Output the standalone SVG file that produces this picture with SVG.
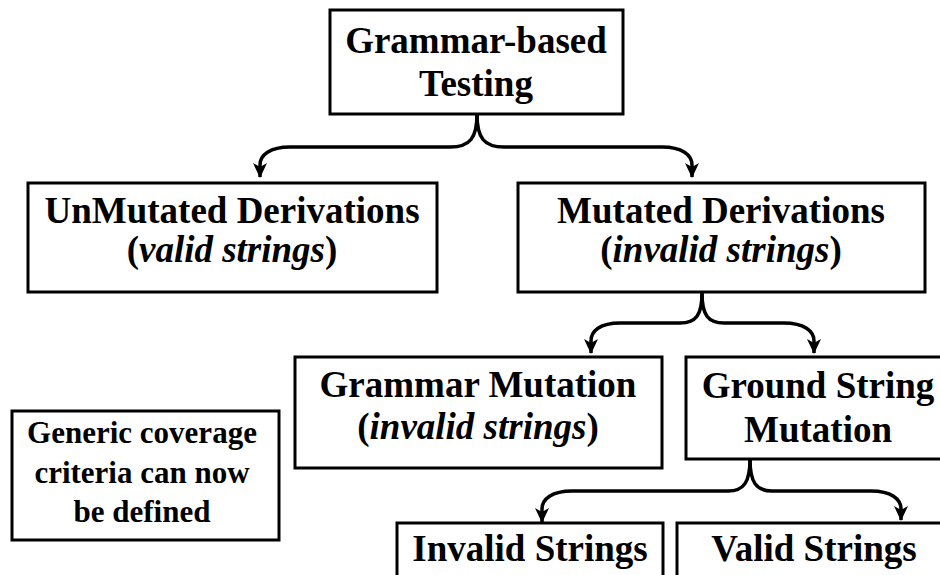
<svg xmlns="http://www.w3.org/2000/svg" width="940" height="575" viewBox="0 0 940 575">
<style>
.box{fill:#fff;stroke:#000;stroke-width:3}
.t{font-family:'Liberation Serif','Tinos','Times New Roman','DejaVu Serif',serif;font-weight:700;font-size:37px;fill:#000;text-anchor:middle}
.s{font-size:31px}
.i{font-style:italic}
.c{fill:none;stroke:#000;stroke-width:3.5;marker-end:url(#ah)}
</style>
<defs>
<marker id="ah" markerUnits="userSpaceOnUse" markerWidth="16" markerHeight="16" viewBox="0 0 16 16" refX="14" refY="8" orient="auto">
<path d="M0,1 L15,8 L0,15 L4,8 Z" fill="#000"/>
</marker>
</defs>
<rect width="940" height="575" fill="#fff"/>
<g id="connectors">
<path class="c" d="M477,114 C477,138 470,147 450,147 L290,147 C270,147 260,155 260,165 L260,177"/>
<path class="c" d="M477,114 C477,138 484,147 504,147 L662,147 C682,147 692,155 692,165 L692,177"/>
<path class="c" d="M702,293 C702,315 696,323 680,323 L620,323 C600,323 591,331 591,341 L591,353"/>
<path class="c" d="M702,293 C702,315 708,323 724,323 L784,323 C804,323 814,331 814,341 L814,353"/>
<path class="c" d="M750,459 C750,482 744,491 728,491 L572,491 C552,491 542,499 542,509 L542,522"/>
<path class="c" d="M750,459 C750,482 756,491 772,491 L871,491 C891,491 901,499 901,509 L901,520"/>
</g>
<g id="n_root">
<rect class="box" x="330" y="10" width="293" height="104"/>
<text class="t" x="476" y="53" font-family="Liberation Serif">Grammar-based</text>
<text class="t" x="476" y="96" font-family="Liberation Serif">Testing</text>
</g>
<g id="n_unmutated">
<rect class="box" x="28" y="183" width="409" height="109"/>
<text class="t" x="232" y="223">UnMutated Derivations</text>
<text class="t" x="232" y="262">(<tspan class="i">valid strings</tspan>)</text>
</g>
<g id="n_mutated">
<rect class="box" x="518" y="183" width="407" height="109"/>
<text class="t" x="721" y="223">Mutated Derivations</text>
<text class="t" x="721" y="262">(<tspan class="i">invalid strings</tspan>)</text>
</g>
<g id="n_grammar_mutation">
<rect class="box" x="295" y="357" width="367" height="111"/>
<text class="t" x="478" y="397">Grammar Mutation</text>
<text class="t" x="478" y="439">(<tspan class="i">invalid strings</tspan>)</text>
</g>
<g id="n_ground_string">
<rect class="box" x="686" y="357" width="264" height="102"/>
<text class="t" x="818" y="398">Ground String</text>
<text class="t" x="818" y="442">Mutation</text>
</g>
<g id="n_generic">
<rect class="box" x="12" y="411" width="267" height="129"/>
<text class="t s" x="142" y="443">Generic coverage</text>
<text class="t s" x="142" y="483">criteria can now</text>
<text class="t s" x="142" y="522">be defined</text>
</g>
<g id="n_invalid">
<rect class="box" x="397" y="523" width="266" height="70"/>
<text class="t" x="530" y="561">Invalid Strings</text>
</g>
<g id="n_valid">
<rect class="box" x="677" y="523" width="273" height="70"/>
<text class="t" x="814" y="561">Valid Strings</text>
</g>
</svg>
